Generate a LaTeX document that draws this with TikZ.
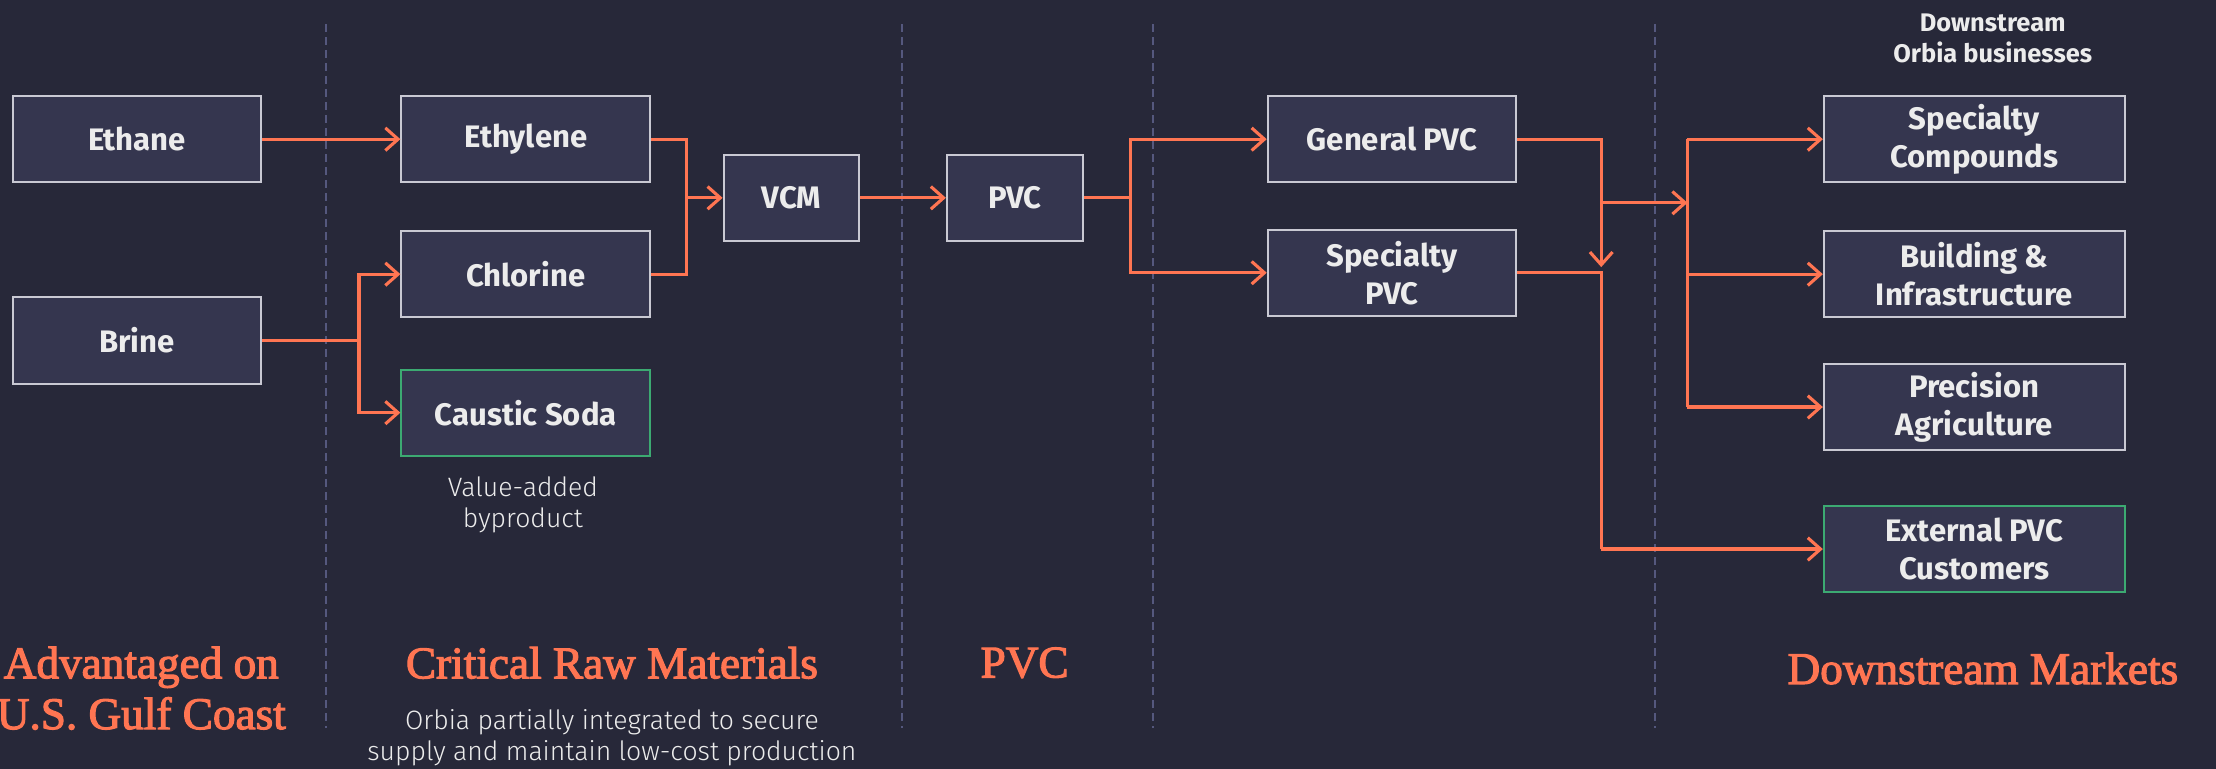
\documentclass[tikz,border=0pt]{standalone}
\usepackage{fontspec}
\usetikzlibrary{arrows.meta}
\newfontfamily\boxfont{Fira Sans}
\newfontfamily\lightfont{Fira Sans Light}
\newfontfamily\titlefont{Liberation Serif}[FakeBold=2.5]
\definecolor{bgc}{HTML}{272839}
\definecolor{boxfillc}{HTML}{35364F}
\definecolor{boxdrawc}{HTML}{C9C9D3}
\definecolor{orangec}{HTML}{FF7552}
\definecolor{greenc}{HTML}{3CAA72}
\definecolor{dashc}{HTML}{55587E}
\definecolor{txtc}{HTML}{ECECEC}
\tikzset{
  stagebox/.style={draw=boxdrawc, fill=boxfillc, line width=0.7pt, minimum height=30.5pt,
    minimum width=88pt, inner sep=0pt, text=txtc, align=center,
    font=\boxfont\bfseries\fontsize{11}{13.5}\selectfont},
  smallbox/.style={stagebox, minimum width=48pt},
  marketbox/.style={stagebox, minimum width=106.5pt},
  greenbox/.style={draw=greenc},
  flow/.style={draw=orangec, line width=1.1pt},
  arr/.style={-{Straight Barb[length=4.5pt,width=8pt,line width=1.1pt]}},
  sep/.style={draw=dashc, line width=0.7pt, dash pattern=on 2.8pt off 1.8pt},
  title/.style={text=orangec, align=center, font=\titlefont\fontsize{16}{18}\selectfont},
  note/.style={text=txtc, align=center, font=\lightfont\fontsize{9.4}{11}\selectfont},
}
\begin{document}
\begin{tikzpicture}[x=0.5pt, y=-0.5pt]
\fill[bgc] (0,0) rectangle (1568,544);
\useasboundingbox (0,0) rectangle (1568,544);
% separators
\foreach \xx/\nm in {231/sa,638/sb,816/sc,1171/sd}{
  \coordinate (\nm top) at (\xx,17);
  \coordinate (\nm bot) at (\xx,515);
  \draw[sep] (\nm top) -- (\nm bot);
}
% boxes
\node[stagebox] (ethane) at (97,98.5) {Ethane};
\node[stagebox] (brine) at (97,241) {Brine};
\node[stagebox] (ethylene) at (372,98.5) {Ethylene};
\node[stagebox] (chlorine) at (372,194) {Chlorine};
\node[stagebox, greenbox] (caustic) at (372,292) {Caustic Soda};
\node[smallbox] (vcm) at (560,140) {VCM};
\node[smallbox] (pvc) at (718,140) {PVC};
\node[stagebox] (gpvc) at (985,98.5) {General PVC};
\node[stagebox] (spvc) at (985,193) {Specialty\\PVC};
\node[marketbox] (sc) at (1397,98.5) {Specialty\\Compounds};
\node[marketbox] (bi) at (1397,194) {Building \&\\Infrastructure};
\node[marketbox] (pa) at (1397,288) {Precision\\Agriculture};
\node[marketbox, greenbox] (ext) at (1397,388.5) {External PVC\\Customers};
% texts
\node[note] (vab) at (370,357) {Value-added\\byproduct};
\node[note, font=\boxfont\bfseries\fontsize{9}{11}\selectfont] (dob) at (1410,27) {Downstream\\Orbia businesses};
\node[title] (t1) at (100,487) {Advantaged on\\U.S. Gulf Coast};
\node[title] (t2) at (433,469) {Critical Raw Materials};
\node[title] (t3) at (725,469) {PVC};
\node[title] (t4) at (1403,473) {Downstream Markets};
\node[note] (t2s) at (433,522) {Orbia partially integrated to secure\\supply and maintain low-cost production};
% connectors
\draw[flow,arr] (ethane) -- (ethylene);
\coordinate (bj) at (254,241);
\draw[flow] (brine.east) -- (bj);
\draw[flow,arr] (bj) |- (chlorine.west);
\draw[flow,arr] (bj) |- (caustic.west);
\coordinate (m1) at (486,140);
\draw[flow] (ethylene.east) -| (m1) |- (chlorine.east);
\draw[flow,arr] (m1) -- (vcm.west);
\draw[flow,arr] (vcm) -- (pvc);
\coordinate (p1) at (800,140);
\draw[flow] (pvc.east) -- (p1);
\draw[flow,arr] (p1) |- (gpvc.west);
\draw[flow,arr] (p1) |- (spvc.west);
\coordinate (g2) at (1133,189);
\draw[flow,arr] (gpvc.east) -| (g2);
\coordinate (g3) at (1133,143.5);
\coordinate (d1) at (1194,143.5);
\draw[flow,arr] (g3) -- (d1);
\draw[flow] (d1 |- sc.west) -- (d1 |- pa.west);
\draw[flow,arr] (d1 |- sc.west) -- (sc.west);
\draw[flow,arr] (d1 |- bi.west) -- (bi.west);
\draw[flow,arr] (d1 |- pa.west) -- (pa.west);
\coordinate (s1) at (1133,388.5);
\draw[flow] (spvc.east) -| (s1);
\draw[flow,arr] (s1) -- (ext.west);
\end{tikzpicture}
\end{document}
